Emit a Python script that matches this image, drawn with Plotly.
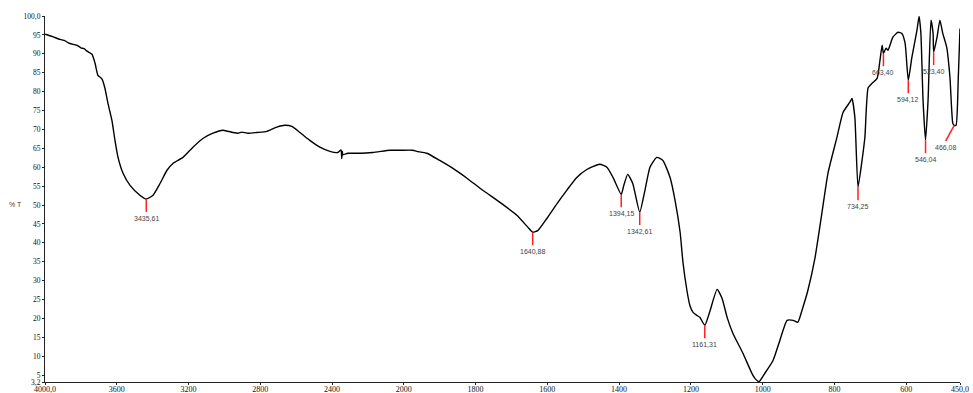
import plotly.graph_objects as go

# Spectrum (wavenumber cm-1, %T)
wavenumber = [4000, 3960, 3916, 3890, 3870, 3844, 3820, 3800, 3780, 3766, 3738, 3721, 3705, 3690, 3682,
              3666, 3649, 3627, 3610, 3593, 3565, 3526, 3471, 3435.61, 3398, 3359, 3320, 3287, 3231,
              3175, 3120, 3064, 3008, 2953, 2925, 2903, 2869, 2819, 2763, 2708, 2663, 2624, 2579,
              2524, 2468, 2412, 2368, 2350, 2346, 2343, 2340, 2312, 2262, 2173, 2078, 2022, 1975,
              1964, 1936, 1900, 1863, 1824, 1780, 1732, 1685, 1654, 1640.88, 1626, 1601, 1573, 1546,
              1518, 1490, 1454, 1434, 1417, 1394.15, 1387, 1376, 1362, 1342.61, 1328, 1314, 1295,
              1278, 1258, 1244, 1230, 1222, 1211, 1203, 1194, 1183, 1175, 1161.31, 1147, 1127, 1113,
              1099, 1083, 1055, 1030, 1021, 1010, 994, 971, 952, 932, 915, 902, 888, 874, 854, 835,
              818, 793, 776, 757, 751, 743, 734.25, 723, 715, 706, 695, 681, 673, 667, 663.40, 656,
              651, 637, 623, 612, 603, 594.12, 584, 570, 564, 559, 553, 546.04, 539, 531, 525,
              523.40, 514, 506, 498, 487, 478, 470, 466.08, 461, 455, 450]
transmittance = [95.2, 94.6, 93.8, 93.5, 92.9, 92.5, 92.2, 91.6, 91.3, 90.7, 89.9, 87.5, 84.3, 83.7, 83.3,
                 80.9, 76.9, 72.4, 67.1, 62.6, 58.4, 55.2, 52.6, 51.6, 52.6, 55.7, 59.2, 61.0, 62.6,
                 65.3, 67.6, 69.0, 69.8, 69.2, 69.0, 69.3, 69.0, 69.2, 69.5, 70.6, 71.1, 70.8, 69.2,
                 67.1, 65.3, 64.2, 63.9, 64.6, 62.3, 64.2, 63.3, 63.7, 63.7, 63.9, 64.5, 64.5, 64.5,
                 64.2, 63.7, 61.8, 59.7, 57.1, 53.9, 50.7, 47.3, 44.1, 42.8, 43.3, 46.5, 50.4, 53.9,
                 57.3, 59.4, 60.8, 60.0, 57.3, 52.8, 55.2, 58.1, 55.7, 48.1, 53.9, 60.0, 62.6,
                 61.8, 57.3, 51.2, 42.8, 34.8, 27.4, 23.5, 21.6, 20.8, 20.3, 18.2, 21.9, 27.7, 25.3,
                 20.3, 16.1, 10.8, 5.5, 4.1, 3.3, 5.5, 8.9, 14.2, 19.5, 19.5, 19.0, 22.9, 27.4, 36.1, 47.8,
                 58.4, 67.9, 74.5, 77.2, 78.2, 73.2, 54.7, 61.8, 68.0, 81.0, 82.2, 83.5, 88.3, 92.3, 90.1, 91.5,
                 90.9, 94.4, 95.7, 95.4, 92.8, 83.0, 89.1, 96.2, 99.9, 95.4, 77.7, 67.1, 77.7, 98.9, 95.4,
                 90.4, 94.4, 98.9, 95.4, 91.7, 83.8, 71.6, 71.1, 71.1, 83.0, 96.7]

peak_wn = [3435.61, 1640.88, 1394.15, 1342.61, 1161.31, 734.25, 663.40, 594.12, 546.04, 523.40, 466.08]
peak_T = [51.6, 42.8, 52.8, 48.1, 18.2, 54.7, 90.1, 83.0, 67.1, 90.4, 71.1]
peak_labels = ["3435,61", "1640,88", "1394,15", "1342,61", "1161,31", "734,25",
               "663,40", "594,12", "546,04", "523,40", "466,08"]

x_tick_values = [4000, 3600, 3200, 2800, 2400, 2000, 1800, 1600, 1400, 1200, 1000, 800, 600, 450]
x_tick_labels = ["4000,0", "3600", "3200", "2800", "2400", "2000", "1800", "1600",
                 "1400", "1200", "1000", "800", "600", "450,0"]
y_tick_values = [3.2, 5, 10, 15, 20, 25, 30, 35, 40, 45, 50, 55, 60, 65, 70, 75, 80, 85, 90, 95, 100]
y_tick_labels = ["3,2", "5", "10", "15", "20", "25", "30", "35", "40", "45", "50", "55", "60",
                 "65", "70", "75", "80", "85", "90", "95", "100,0"]


def pos(wn):
    # instrument axis: scale halves above 2000 cm-1
    return wn if wn <= 2000 else 2000 + (wn - 2000) / 2.0


fig = go.Figure()
fig.add_trace(go.Scatter(x=[pos(w) for w in wavenumber], y=transmittance, mode="lines",
                         line=dict(color="black", width=1.4, shape="spline", smoothing=0.5),
                         showlegend=False, hoverinfo="skip"))

for w, t, lab in zip(peak_wn, peak_T, peak_labels):
    if lab == "466,08":
        x_end = pos(w) + 24
        y_end = t - 4.2
    else:
        x_end = pos(w)
        y_end = t - 3.4
    fig.add_trace(go.Scatter(x=[pos(w), x_end], y=[t, y_end], mode="lines",
                             line=dict(color="#ff2020", width=1.5), showlegend=False,
                             hoverinfo="skip"))
    fig.add_annotation(x=x_end, y=y_end, text=lab, showarrow=False, yanchor="top",
                       xanchor="center", yshift=-1,
                       font=dict(family="Liberation Sans", size=7, color="#444444"))

fig.add_annotation(x=-0.032, y=0.485, xref="paper", yref="paper", text="% T", showarrow=False,
                   xanchor="center", yanchor="middle",
                   font=dict(family="Liberation Sans", size=7, color="#444444"))

fig.update_xaxes(range=[pos(4000), pos(450)], tickmode="array",
                 tickvals=[pos(v) for v in x_tick_values], ticktext=x_tick_labels,
                 showgrid=False, zeroline=False, showline=True, linecolor="#222222", linewidth=1.2,
                 ticks="outside", ticklen=2, tickcolor="#222222", ticklabelstandoff=-3,
                 tickfont=dict(family="Liberation Serif", size=8, color="#111111"))
fig.update_yaxes(range=[3.2, 100], tickmode="array", tickvals=y_tick_values, ticktext=y_tick_labels,
                 showgrid=False, zeroline=False, showline=True, linecolor="#222222", linewidth=1.2,
                 ticks="outside", ticklen=2, tickcolor="#222222",
                 tickfont=dict(family="Liberation Serif", size=7.5, color="#111111"))
fig.update_layout(width=973, height=393, margin=dict(l=45, r=13, t=16, b=11, autoexpand=False),
                  paper_bgcolor="white", plot_bgcolor="white")

fig.write_html("out.html")
